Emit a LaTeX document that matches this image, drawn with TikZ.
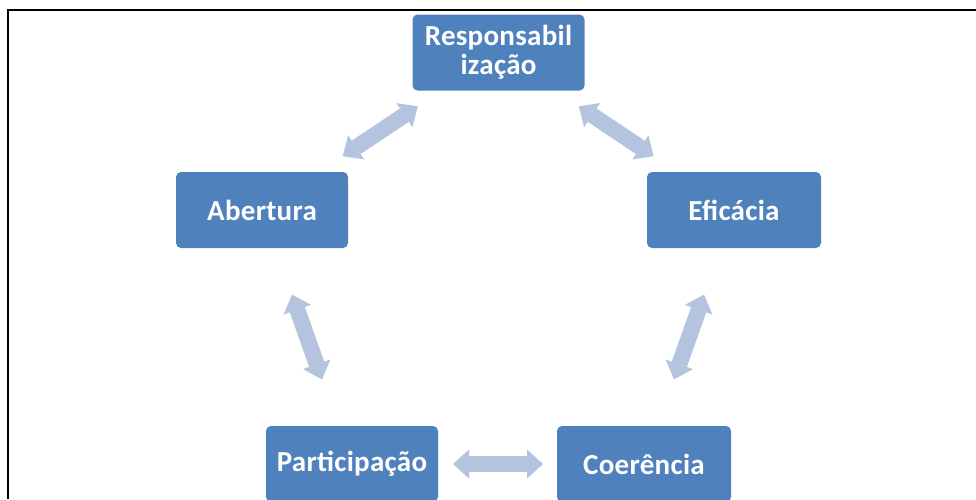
\documentclass[tikz,border=0pt]{standalone}
\usepackage{fontspec}
\setmainfont[LetterSpace=1]{Carlito}
\usepackage{tikz}
\usetikzlibrary{calc}
\usetikzlibrary{arrows.meta}
\definecolor{boxblue}{RGB}{79,129,189}
\definecolor{paleblue}{RGB}{180,195,222}
\tikzset{
    bluebox/.style={
        rectangle,
        rounded corners=5pt,
        fill=boxblue,
        text=white,
        minimum width=172pt,
        minimum height=76pt,
        align=center,
        font=\bfseries\fontsize{29}{29}\selectfont
    },
    % seta dupla clara entre duas caixas
    palearrow/.style={
        line width=16pt,
        paleblue,
        {Triangle[length=16pt, width=29pt, line width=0pt]}-{Triangle[length=16pt, width=29pt, line width=0pt]}
    }
}

\begin{document}
\begin{tikzpicture}[x=1pt, y=-1pt]
	\clip (0,0) rectangle (976,499);
	\draw[line width=2pt] (8,499) -- (8,10) -- (976,10);

	\node[bluebox] (resp) at (498.5,52.5) {Responsabil\\ização};
	\node[bluebox] (abert) at (262,210) {Abertura};
	\node[bluebox, minimum width=174pt] (efic) at (734,210) {Eficácia};
	\node[bluebox] (partic) at (352,464) {Participação};
	\node[bluebox, minimum width=174pt] (coer) at (644,464) {Coerência};

	\foreach \a/\b in {resp/abert, resp/efic, abert/partic, efic/coer, partic/coer}
		\draw[palearrow] ($(\a)!.5!(\b)!45pt!(\a)$) -- ($(\a)!.5!(\b)!45pt!(\b)$);
\end{tikzpicture}
\end{document}
